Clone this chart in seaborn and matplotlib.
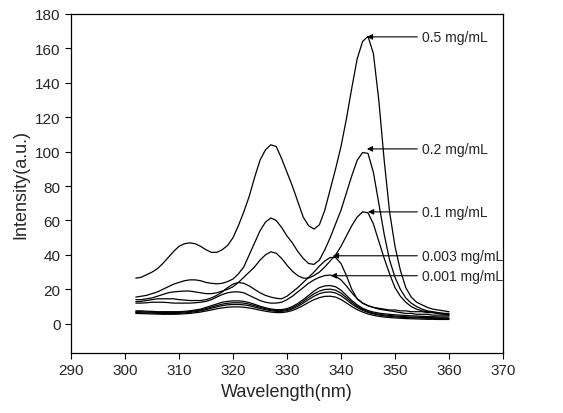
import numpy as np
import pandas as pd
import matplotlib.pyplot as plt
import seaborn as sns

# emission spectra, 1 nm steps from 302 to 360 nm
wavelength = list(range(302, 361))

conc_05 = [26.5, 27, 28.5, 30, 32, 35, 38.5, 42, 45, 46.5, 47, 46.5, 45, 43, 41.5, 41.5, 43, 45.5, 50, 57,
           65, 74, 85, 95, 101, 104, 103, 96, 88, 80, 71, 62, 57, 55, 57.5, 66, 78, 90, 103, 119,
           137, 154, 164, 167, 157, 130, 95, 65, 45, 31, 21, 15.5, 12.5, 11, 9.5, 8.5, 8, 7.5, 7]
conc_02 = [15.5, 16, 16.5, 17.5, 18.5, 20, 21.5, 23, 24, 25, 25.5, 25.5, 25, 24, 23.5, 23.2, 23.5, 24.5, 26, 29,
           33, 40, 47, 54, 59, 61.5, 60, 56, 51, 47, 42, 38, 35, 34.5, 37, 43, 50, 58, 66, 76,
           86, 95, 99.5, 99, 88, 70, 52, 37, 27, 20, 15, 12, 10, 8.5, 7.5, 7, 6.5, 6, 5.5]
conc_01 = [14, 14, 14.5, 15, 16, 17, 18, 18.5, 18.8, 19, 19, 18.5, 18, 17.5, 17.5, 18, 19, 20, 21.5, 24,
           27, 30, 33, 37, 40, 41.8, 41, 38, 34, 30.5, 28, 26.5, 26.5, 28, 30, 33, 36.5, 40, 45, 51,
           57, 62, 65, 64.5, 58, 48, 38, 29, 21, 16, 12.5, 10, 8.5, 7.5, 7, 6.5, 6, 5.5, 5]
conc_0003 = [12.8, 13, 13.5, 14, 14.5, 14.5, 14.5, 14.5, 14, 13.8, 13.5, 13.5, 13.5, 14, 15, 16.5, 18.5, 21, 23, 24,
             23.5, 22, 20, 18, 16.5, 15.5, 14.8, 14.5, 16, 18.5, 21, 24, 27, 30, 33.5, 36.5, 38.5, 38.5, 35, 28,
             20, 14.5, 12, 10.5, 9.5, 9, 8.5, 8, 8, 7.5, 7.5, 7, 7, 7, 6.5, 6.5, 6, 6, 6]
conc_0001 = [12, 12, 12.2, 12.5, 12.5, 12.5, 12.3, 12, 12, 12, 12, 12.2, 12.5, 13, 14, 15.5, 17, 18, 18.5, 18.5,
             18, 16.5, 15, 13.5, 12.5, 12, 12, 12.5, 14, 16, 18.5, 21, 23.5, 25.5, 27, 28, 28.3, 27.5, 25.5, 22,
             18, 14.5, 12, 10.5, 9.5, 8.5, 8, 7.5, 7, 6.5, 6, 6, 5.5, 5.5, 5.5, 5, 5, 5, 5]
# unlabeled low-concentration spectra
low_a = [7.5, 7.5, 7.3, 7.2, 7, 7, 7, 7, 7, 7.2, 7.5, 8, 8.5, 9.5, 10.5, 11.5, 12.5, 13, 13.3, 13.3,
         13, 12.3, 11.3, 10.2, 9.3, 8.6, 8.2, 8.2, 8.8, 10, 11.8, 14, 16.5, 19, 21, 22, 22.2, 21.5, 19.5, 16.5,
         13.5, 11, 9, 7.7, 6.8, 6.2, 5.8, 5.5, 5.2, 5, 4.8, 4.6, 4.5, 4.3, 4.2, 4.1, 4, 4, 4]
low_b = [7, 7, 6.8, 6.7, 6.6, 6.5, 6.5, 6.5, 6.6, 6.8, 7.1, 7.5, 8, 8.8, 9.7, 10.6, 11.4, 11.9, 12.2, 12.2,
         12, 11.4, 10.5, 9.6, 8.8, 8.1, 7.7, 7.7, 8.2, 9.3, 11, 13, 15.3, 17.4, 19, 19.9, 20.1, 19.5, 17.8, 15.2,
         12.5, 10.2, 8.4, 7.1, 6.2, 5.6, 5.1, 4.8, 4.5, 4.3, 4.1, 3.9, 3.8, 3.7, 3.6, 3.5, 3.4, 3.4, 3.3]
low_c = [6.5, 6.4, 6.3, 6.2, 6.1, 6, 6, 6, 6.1, 6.3, 6.6, 7, 7.5, 8.2, 9, 9.8, 10.5, 11, 11.2, 11.2,
         11, 10.5, 9.7, 8.9, 8.2, 7.6, 7.2, 7.2, 7.6, 8.6, 10.1, 12, 14.1, 16, 17.5, 18.3, 18.5, 17.9, 16.3, 14,
         11.5, 9.4, 7.8, 6.6, 5.7, 5.1, 4.6, 4.3, 4, 3.8, 3.6, 3.5, 3.4, 3.3, 3.2, 3.1, 3, 3, 2.9]
low_d = [6, 5.9, 5.8, 5.7, 5.6, 5.5, 5.5, 5.5, 5.6, 5.8, 6, 6.4, 6.8, 7.4, 8, 8.7, 9.2, 9.6, 9.8, 9.8,
         9.6, 9.2, 8.6, 7.9, 7.3, 6.8, 6.5, 6.5, 6.9, 7.7, 9, 10.6, 12.4, 14, 15.2, 15.9, 16, 15.5, 14.1, 12.1,
         10, 8.2, 6.8, 5.7, 4.9, 4.3, 3.9, 3.6, 3.4, 3.2, 3, 2.9, 2.8, 2.7, 2.6, 2.6, 2.5, 2.5, 2.5]

curves = {"0.5 mg/mL": conc_05, "0.2 mg/mL": conc_02, "0.1 mg/mL": conc_01,
          "0.003 mg/mL": conc_0003, "0.001 mg/mL": conc_0001,
          "low a": low_a, "low b": low_b, "low c": low_c, "low d": low_d}

# labels and where their arrows point (peak wavelength, peak height)
label_names = ["0.5 mg/mL", "0.2 mg/mL", "0.1 mg/mL", "0.003 mg/mL", "0.001 mg/mL"]
label_tip_x = [344.8, 344.8, 345.0, 338.5, 338.1]
label_y = [166.7, 101.6, 65.0, 39.5, 27.9]

df = pd.concat([pd.DataFrame({"wavelength": wavelength, "intensity": v, "conc": k})
                for k, v in curves.items()], ignore_index=True)

sns.set_style("ticks")
plt.rcParams["font.family"] = ["Liberation Sans", "DejaVu Sans"]

fig = plt.figure(figsize=(5.63, 4.14), dpi=100)
ax = fig.add_axes([0.1261, 0.1449, 0.7673, 0.8189])

sns.lineplot(data=df, x="wavelength", y="intensity", units="conc", estimator=None,
             color="black", linewidth=0.9, ax=ax, legend=False)

for name, tx, ty in zip(label_names, label_tip_x, label_y):
    ax.annotate(name, xy=(tx, ty), xytext=(355.0, ty), ha="left", va="center", fontsize=10,
                arrowprops=dict(arrowstyle="-|>", color="black", lw=0.8, mutation_scale=8,
                                shrinkA=1, shrinkB=0))

ax.set_xlim(290, 370)
ax.set_ylim(-17, 180)
ax.set_xticks(range(290, 371, 10))
ax.set_yticks(range(0, 181, 20))
ax.tick_params(direction="out", length=4, width=0.8, labelsize=11, color="black")
for s in ax.spines.values():
    s.set_linewidth(0.9)
    s.set_color("black")
ax.set_xlabel("Wavelength(nm)", fontsize=13)
ax.set_ylabel("Intensity(a.u.)", fontsize=13)

fig.savefig("out.png", dpi=100)
